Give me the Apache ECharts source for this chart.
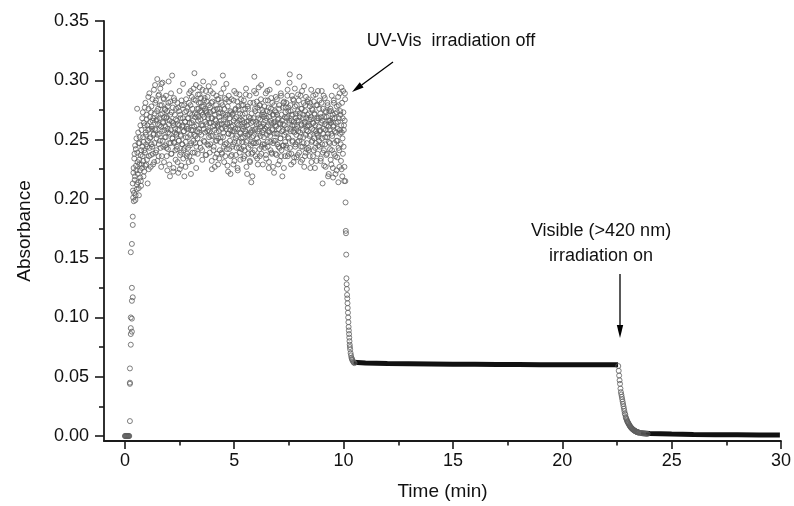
<!DOCTYPE html>
<html><head><meta charset="utf-8">
<script src="https://cdn.jsdelivr.net/npm/echarts@6/dist/echarts.min.js"></script>
<style>html,body{margin:0;padding:0;background:#fff}#c{width:794px;height:506px}</style>
</head><body><div id="c"></div><script>
// ---- tick labels ----
const xTicks = [0, 5, 10, 15, 20, 25, 30];
const xMinorTicks = [2.5, 7.5, 12.5, 17.5, 22.5, 27.5];
const yTicks = [0, 0.05, 0.10, 0.15, 0.20, 0.25, 0.30, 0.35];
const yMinorTicks = [0.025, 0.075, 0.125, 0.175, 0.225, 0.275, 0.325];

// ---- data (time in min, absorbance) ----
// baseline before UV-Vis irradiation
const baseT = [0, 0.02, 0.04, 0.06, 0.08, 0.10, 0.12, 0.14, 0.16, 0.18, 0.20];
const baseV = [0, 0, 0, 0, 0, 0, 0, 0, 0, 0, 0];
// fast rise
const riseT = [0.23, 0.23, 0.23, 0.23, 0.27, 0.27, 0.32, 0.27, 0.32, 0.27, 0.32, 0.36, 0.32, 0.27, 0.32, 0.36, 0.36];
const riseV = [0.0126, 0.044, 0.045, 0.057, 0.077, 0.086, 0.088, 0.091, 0.099, 0.100, 0.114, 0.117, 0.125, 0.155, 0.162, 0.178, 0.185];
// noisy plateau under irradiation: two interleaved reading sets, each sampled every CLOUD_DT min
const CLOUD_DT = 0.02;
const CLOUD_A_T0 = 0.36;
const cloudA = [
0.213,0.201,0.226,0.205,0.238,0.219,0.199,0.242,0.224,0.208,0.276,0.231,0.214,0.247,0.203,0.229,0.252,0.218,0.237,0.211,0.258,0.226,0.244,0.273,0.232,
0.248,0.223,0.262,0.239,0.281,0.254,0.229,0.267,0.244,0.213,0.258,0.276,0.236,0.289,0.251,0.265,0.227,0.273,0.246,0.259,0.284,0.238,0.268,0.255,0.231,
0.272,0.296,0.258,0.283,0.241,0.267,0.301,0.254,0.276,0.236,0.288,0.262,0.249,0.293,0.271,0.227,0.279,0.257,0.298,0.265,0.244,0.284,0.269,0.252,0.275,
0.261,0.287,0.243,0.269,0.224,0.278,0.256,0.299,0.247,0.266,0.219,0.282,0.258,0.238,0.273,0.304,0.251,0.264,0.226,0.285,0.247,0.271,0.259,0.233,0.276,
0.255,0.242,0.281,0.263,0.222,0.249,0.274,0.291,0.237,0.268,0.253,0.228,0.279,0.246,0.262,0.297,0.241,0.257,0.219,0.273,0.265,0.248,0.284,0.236,0.261,
0.277,0.252,0.268,0.231,0.289,0.264,0.245,0.279,0.221,0.258,0.286,0.271,0.239,0.266,0.293,0.254,0.306,0.272,0.247,0.283,0.226,0.262,0.276,0.251,0.288,
0.269,0.281,0.256,0.294,0.274,0.243,0.285,0.262,0.278,0.233,0.271,0.299,0.259,0.283,0.248,0.276,0.265,0.291,0.237,0.273,0.257,0.286,0.268,0.245,0.279,
0.264,0.239,0.277,0.291,0.253,0.268,0.225,0.282,0.261,0.274,0.244,0.298,0.258,0.271,0.235,0.266,0.287,0.249,0.276,0.262,0.229,0.284,0.257,0.269,0.241,
0.273,0.252,0.289,0.263,0.238,0.279,0.304,0.256,0.267,0.231,0.285,0.246,0.271,0.259,0.297,0.242,0.264,0.278,0.223,0.255,0.282,0.268,0.249,0.274,0.236,
0.261,0.284,0.244,0.257,0.272,0.229,0.266,0.291,0.248,0.259,0.276,0.237,0.269,0.253,0.282,0.224,0.262,0.275,0.243,0.288,0.256,0.233,0.267,0.251,0.279,
0.248,0.271,0.259,0.234,0.283,0.264,0.241,0.276,0.255,0.293,0.227,0.262,0.249,0.278,0.238,0.266,0.254,0.287,0.231,0.268,0.245,0.214,0.272,0.258,0.239,
0.265,0.281,0.247,0.303,0.258,0.274,0.236,0.289,0.263,0.251,0.277,0.229,0.268,0.294,0.255,0.242,0.279,0.261,0.284,0.238,0.271,0.256,0.246,0.273,0.263,
0.252,0.278,0.243,0.266,0.289,0.234,0.261,0.274,0.248,0.283,0.257,0.226,0.269,0.292,0.253,0.241,0.276,0.264,0.238,0.281,0.259,0.247,0.271,0.222,0.265,
0.274,0.249,0.286,0.261,0.237,0.271,0.255,0.298,0.244,0.268,0.279,0.232,0.263,0.251,0.287,0.241,0.266,0.219,0.277,0.258,0.245,0.282,0.262,0.236,0.273,
0.256,0.281,0.243,0.269,0.292,0.252,0.277,0.238,0.264,0.305,0.259,0.274,0.229,0.266,0.287,0.248,0.271,0.257,0.283,0.235,0.262,0.278,0.246,0.268,0.254,
0.279,0.261,0.237,0.288,0.266,0.249,0.303,0.272,0.256,0.231,0.276,0.263,0.291,0.244,0.268,0.252,0.281,0.227,0.265,0.274,0.239,0.286,0.258,0.247,0.271,
0.262,0.284,0.241,0.267,0.253,0.278,0.226,0.269,0.292,0.248,0.259,0.275,0.236,0.264,0.282,0.251,0.271,0.243,0.288,0.257,0.232,0.266,0.279,0.254,0.245,
0.268,0.249,0.283,0.257,0.272,0.234,0.264,0.291,0.246,0.213,0.276,0.259,0.241,0.269,0.285,0.252,0.227,0.273,0.262,0.238,0.281,0.255,0.266,0.221,0.274,
0.258,0.242,0.276,0.264,0.229,0.287,0.253,0.271,0.218,0.262,0.281,0.247,0.268,0.236,0.295,0.256,0.224,0.273,0.249,0.265,0.214,0.279,0.241,0.289,0.258,
0.271,0.232,0.294,0.256,0.219,0.268,0.291,0.244,0.262,0.227,0.289
];
const CLOUD_B_T0 = 0.37;
const cloudB = [
0.207,0.222,0.198,0.234,0.216,0.245,0.203,0.228,0.251,0.212,0.239,0.221,0.256,0.209,0.233,0.247,0.224,0.262,0.215,0.241,0.229,0.268,0.236,0.252,0.219,
0.264,0.241,0.277,0.228,0.256,0.246,0.271,0.233,0.262,0.249,0.286,0.225,0.259,0.243,0.269,0.252,0.237,0.278,0.261,0.244,0.266,0.229,0.254,0.292,0.247,
0.259,0.281,0.239,0.266,0.251,0.274,0.232,0.263,0.287,0.246,0.268,0.255,0.279,0.243,0.261,0.297,0.236,0.272,0.249,0.264,0.285,0.231,0.258,0.276,0.245,
0.252,0.268,0.236,0.274,0.259,0.242,0.281,0.263,0.229,0.255,0.271,0.247,0.289,0.238,0.265,0.251,0.277,0.223,0.262,0.248,0.283,0.256,0.241,0.267,0.254,
0.244,0.266,0.231,0.258,0.277,0.249,0.262,0.225,0.271,0.254,0.239,0.283,0.261,0.246,0.268,0.234,0.257,0.279,0.243,0.265,0.227,0.252,0.274,0.259,0.238,
0.268,0.243,0.259,0.281,0.236,0.272,0.254,0.291,0.247,0.264,0.232,0.276,0.258,0.249,0.284,0.261,0.239,0.269,0.253,0.296,0.244,0.271,0.257,0.238,0.266,
0.276,0.259,0.288,0.247,0.267,0.281,0.254,0.273,0.241,0.292,0.262,0.278,0.249,0.269,0.285,0.256,0.237,0.274,0.263,0.282,0.246,0.271,0.258,0.295,0.252,
0.257,0.273,0.246,0.264,0.281,0.232,0.268,0.253,0.289,0.241,0.275,0.262,0.227,0.267,0.249,0.279,0.256,0.238,0.284,0.261,0.251,0.272,0.234,0.263,0.276,
0.248,0.266,0.281,0.239,0.259,0.272,0.252,0.293,0.244,0.276,0.261,0.236,0.269,0.284,0.247,0.263,0.228,0.271,0.255,0.287,0.242,0.264,0.258,0.221,0.273,
0.254,0.237,0.271,0.262,0.246,0.283,0.257,0.232,0.268,0.275,0.251,0.289,0.243,0.264,0.226,0.259,0.278,0.248,0.266,0.239,0.272,0.255,0.284,0.242,0.261,
0.266,0.252,0.279,0.244,0.261,0.236,0.272,0.257,0.288,0.248,0.265,0.221,0.254,0.276,0.243,0.269,0.259,0.232,0.281,0.256,0.264,0.238,0.252,0.219,0.247,
0.253,0.268,0.291,0.241,0.276,0.259,0.247,0.265,0.282,0.234,0.257,0.271,0.248,0.263,0.279,0.236,0.267,0.253,0.296,0.244,0.261,0.275,0.229,0.258,0.269,
0.271,0.246,0.259,0.283,0.237,0.268,0.254,0.291,0.244,0.262,0.277,0.231,0.256,0.273,0.248,0.266,0.285,0.239,0.258,0.271,0.227,0.264,0.249,0.279,0.255,
0.262,0.238,0.273,0.255,0.284,0.246,0.267,0.229,0.259,0.276,0.243,0.264,0.251,0.289,0.236,0.271,0.257,0.245,0.263,0.281,0.226,0.254,0.269,0.248,0.277,
0.245,0.268,0.259,0.287,0.236,0.274,0.251,0.266,0.298,0.243,0.279,0.257,0.238,0.271,0.262,0.249,0.284,0.231,0.265,0.256,0.293,0.244,0.272,0.259,0.235,
0.266,0.248,0.274,0.257,0.283,0.239,0.269,0.252,0.287,0.244,0.262,0.276,0.233,0.258,0.271,0.247,0.295,0.263,0.236,0.279,0.254,0.268,0.242,0.261,0.282,
0.257,0.243,0.272,0.262,0.236,0.281,0.254,0.267,0.231,0.276,0.249,0.264,0.287,0.241,0.258,0.272,0.226,0.262,0.247,0.279,0.255,0.268,0.238,0.291,0.252,
0.261,0.276,0.244,0.258,0.232,0.269,0.281,0.251,0.266,0.239,0.255,0.287,0.228,0.263,0.246,0.274,0.258,0.237,0.269,0.252,0.279,0.219,0.261,0.248,0.266,
0.247,0.266,0.233,0.274,0.255,0.241,0.268,0.226,0.261,0.283,0.238,0.257,0.272,0.221,0.264,0.249,0.278,0.235,0.259,0.286,0.243,0.268,0.227,0.255,0.274,
0.246,0.262,0.225,0.281,0.251,0.238,0.273,0.258,0.215,0.266,0.284
];
// decay after UV-Vis irradiation off
const drop1T = [10.08,10.09,10.10,10.11,10.12,10.13,10.14,10.15,10.16,10.17,10.18,10.19,10.20,10.21,10.22,10.23,10.24,10.25,10.26,10.27,10.28,10.29,10.30,10.32,10.34,10.36,10.38,10.40,10.43,10.46,10.50];
const drop1V = [0.215,0.197,0.173,0.171,0.153,0.133,0.128,0.124,0.119,0.116,0.112,0.108,0.104,0.100,0.096,0.092,0.089,0.086,0.083,0.080,0.077,0.075,0.073,0.070,0.068,0.066,0.065,0.064,0.063,0.062,0.0615];
// dense dark plateau
const plateau1T = [10.45, 11, 12, 13, 14, 15, 16, 17, 18, 19, 20, 21, 22, 22.55];
const plateau1V = [0.0622, 0.0615, 0.0612, 0.0610, 0.0608, 0.0606, 0.0605, 0.0604, 0.0603, 0.0602, 0.0601, 0.0601, 0.0600, 0.0600];
// decay under visible irradiation
const drop2T = [22.56,22.58,22.60,22.62,22.64,22.66,22.68,22.70,22.72,22.74,22.76,22.78,22.80,22.82,22.84,22.86,22.88,22.90,22.92,22.94,22.96,22.98,23.00,23.02,23.04,23.06,23.08,23.10,23.12,23.14,23.16,23.18,23.20,23.22,23.24,23.26,23.28,23.30,23.32,23.34,23.36,23.38,23.40,23.42,23.44,23.46,23.48,23.50,23.55,23.60,23.65,23.70,23.75,23.80,23.85,23.90];
const drop2V = [0.059,0.055,0.051,0.047,0.044,0.040,0.037,0.035,0.033,0.031,0.029,0.027,0.025,0.023,0.021,0.019,0.018,0.016,0.015,0.014,0.013,0.012,0.0115,0.0108,0.0101,0.0094,0.0088,0.0082,0.0077,0.0072,0.0068,0.0064,0.0060,0.0057,0.0054,0.0051,0.0048,0.0046,0.0043,0.0041,0.0039,0.0037,0.0035,0.0034,0.0032,0.0031,0.0030,0.0029,0.0027,0.0025,0.0023,0.0022,0.0021,0.0020,0.0019,0.0018];
const plateau2T = [23.6, 24, 25, 26, 27, 28, 29, 29.95];
const plateau2V = [0.0025, 0.0021, 0.0016, 0.0013, 0.0011, 0.0010, 0.0009, 0.0008];

// ---- build series data ----
const pts = [];
baseT.forEach((t, i) => pts.push([t, baseV[i]]));
riseT.forEach((t, i) => pts.push([t, riseV[i]]));
cloudA.forEach((v, i) => pts.push([+(CLOUD_A_T0 + i * CLOUD_DT).toFixed(3), v]));
cloudB.forEach((v, i) => pts.push([+(CLOUD_B_T0 + i * CLOUD_DT).toFixed(3), v]));
drop1T.forEach((t, i) => pts.push([t, drop1V[i]]));
drop2T.forEach((t, i) => pts.push([t, drop2V[i]]));
const p1 = plateau1T.map((t, i) => [t, plateau1V[i]]);
const p2 = plateau2T.map((t, i) => [t, plateau2V[i]]);

const FONT = '"Liberation Sans", Arial, Helvetica, sans-serif';
const AX = '#1a1a1a';
const X_MIN = -0.955, X_MAX = 30, Y_MIN = -0.0042, Y_MAX = 0.35;

function arrow(x1, y1, x2, y2, headLen, halfW) {
  const dx = x2 - x1, dy = y2 - y1, L = Math.hypot(dx, dy);
  const ux = dx / L, uy = dy / L, nx = -uy, ny = ux;
  const bx = x2 - headLen * ux, by = y2 - headLen * uy;
  return [
    { type: 'line', shape: { x1: x1, y1: y1, x2: bx, y2: by }, style: { stroke: '#000', lineWidth: 1.3 } },
    { type: 'polygon', shape: { points: [[x2, y2], [bx + halfW * nx, by + halfW * ny], [bx - halfW * nx, by - halfW * ny]] }, style: { fill: '#000' } }
  ];
}

const chart = echarts.init(document.getElementById('c'), null, { renderer: 'canvas' });
chart.setOption({
  animation: false,
  backgroundColor: '#fff',
  grid: { left: 104, right: 9, top: 21, bottom: 63, containLabel: false },
  xAxis: [{
    type: 'value', min: X_MIN, max: X_MAX,
    name: 'Time (min)', nameLocation: 'middle', nameGap: 41,
    nameTextStyle: { fontFamily: FONT, fontSize: 19, color: '#111' },
    axisLine: { show: true, onZero: false, lineStyle: { color: AX, width: 1.8 } },
    axisTick: { show: true, inside: false, length: 8, customValues: xTicks, lineStyle: { color: AX, width: 1.6 } },
    axisLabel: { show: true, customValues: xTicks, margin: 11, fontFamily: FONT, fontSize: 18, color: '#111', formatter: v => String(Math.round(v)) },
    splitLine: { show: false }
  }, {
    type: 'value', min: X_MIN, max: X_MAX, position: 'bottom',
    axisLine: { show: false, onZero: false },
    axisTick: { show: true, inside: false, length: 4.5, customValues: xMinorTicks, lineStyle: { color: AX, width: 1.6 } },
    axisLabel: { show: false },
    splitLine: { show: false }
  }],
  yAxis: [{
    type: 'value', min: Y_MIN, max: Y_MAX,
    name: 'Absorbance', nameLocation: 'middle', nameGap: 70,
    nameTextStyle: { fontFamily: FONT, fontSize: 19, color: '#111' },
    axisLine: { show: true, onZero: false, lineStyle: { color: AX, width: 1.8 } },
    axisTick: { show: true, inside: false, length: 9, customValues: yTicks, lineStyle: { color: AX, width: 1.6 } },
    axisLabel: { show: true, customValues: yTicks, margin: 15, fontFamily: FONT, fontSize: 18, color: '#111', formatter: v => v.toFixed(2) },
    splitLine: { show: false }
  }, {
    type: 'value', min: Y_MIN, max: Y_MAX, position: 'left',
    axisLine: { show: false, onZero: false },
    axisTick: { show: true, inside: false, length: 5, customValues: yMinorTicks, lineStyle: { color: AX, width: 1.6 } },
    axisLabel: { show: false },
    splitLine: { show: false }
  }],
  series: [
    { type: 'line', data: p1, showSymbol: false, symbol: 'none', lineStyle: { color: '#111', width: 5 }, z: 2 },
    { type: 'line', data: p2, showSymbol: false, symbol: 'none', lineStyle: { color: '#111', width: 5 }, z: 2 },
    { type: 'scatter', data: pts, symbol: 'circle', symbolSize: 5, large: false,
      itemStyle: { color: 'rgba(0,0,0,0)', borderColor: '#5e5e5e', borderWidth: 1 }, z: 3 }
  ],
  graphic: [
    { type: 'text', x: 451, y: 41, style: { text: 'UV-Vis  irradiation off', font: '18px ' + FONT, fill: '#111', textAlign: 'center', textVerticalAlign: 'middle' } },
    { type: 'text', x: 601, y: 231, style: { text: 'Visible (>420 nm)', font: '18px ' + FONT, fill: '#111', textAlign: 'center', textVerticalAlign: 'middle' } },
    { type: 'text', x: 601, y: 256, style: { text: 'irradiation on', font: '18px ' + FONT, fill: '#111', textAlign: 'center', textVerticalAlign: 'middle' } },
    ...arrow(393, 62, 352, 92, 12, 3.2),
    ...arrow(620, 274, 620, 338, 13, 3.2)
  ]
});
</script></body></html>
